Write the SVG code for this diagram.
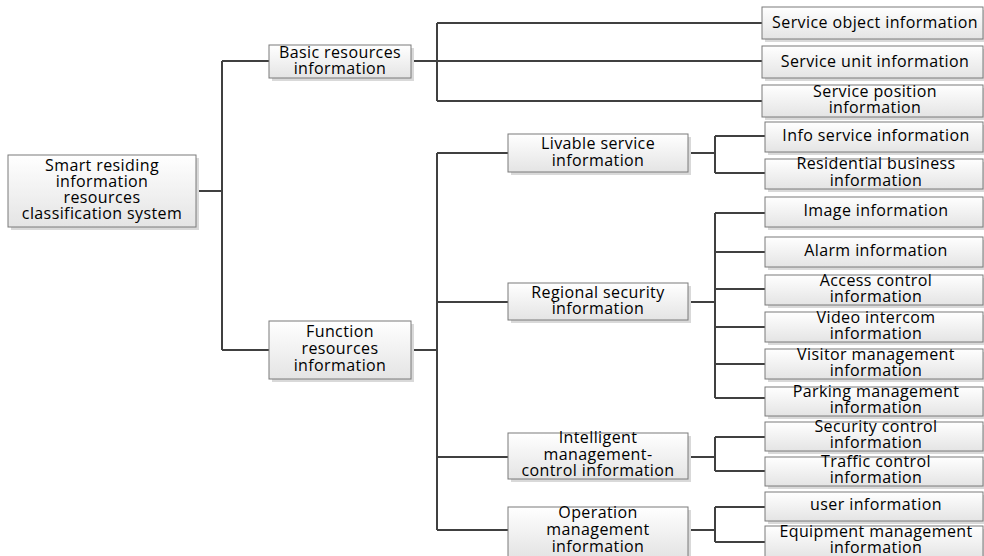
<svg xmlns="http://www.w3.org/2000/svg" width="984" height="556" viewBox="0 0 984 556">
<defs>
<linearGradient id="g" x1="0" y1="0" x2="0" y2="1">
<stop offset="0" stop-color="#ffffff"/>
<stop offset="1" stop-color="#e4e4e4"/>
</linearGradient>
</defs>
<style>
.sh{fill:#d9d9d9;}
.bx{fill:url(#g);stroke:#7a7a7a;stroke-width:1;}
text{font-family:"Open Sans","Liberation Sans",sans-serif;font-size:16px;letter-spacing:0.4px;fill:#000;text-anchor:middle;}
.c{fill:none;stroke:#404040;stroke-width:2;}
</style>
<rect width="984" height="556" fill="#fff"/>
<g id="connectors">
<path class="c" d="M196,191H222M222,61V350M222,61H269M222,350H269"/>
<path class="c" d="M411,61H437M437,23V101M437,23H762M437,61H762M437,101H762"/>
<path class="c" d="M411,350H437M437,153V530M437,153H508M437,302H508M437,457H508M437,530H508"/>
<path class="c" d="M688,153H715M715,136V173M715,136H765M715,173H765"/>
<path class="c" d="M688,302H715M715,213V398M715,213H765M715,252H765M715,289H765M715,327H765M715,364H765M715,398H765"/>
<path class="c" d="M688,457H715M715,437V471M715,437H765M715,471H765"/>
<path class="c" d="M688,530H715M715,507V542M715,507H765M715,542H765"/>
</g>
<g id="root">
<rect class="sh" x="11" y="158" width="188" height="72"/>
<rect class="bx" x="8" y="155" width="188" height="72"/>
<text x="102" y="171">Smart residing</text>
<text x="102" y="187">information</text>
<text x="102" y="203">resources</text>
<text x="102" y="219">classification system</text>
</g>
<g id="basic">
<rect class="sh" x="272" y="48" width="142" height="33"/>
<rect class="bx" x="269" y="45" width="142" height="33"/>
<text x="340" y="58">Basic resources</text>
<text x="340" y="74">information</text>
</g>
<g id="function">
<rect class="sh" x="272" y="324" width="142" height="58"/>
<rect class="bx" x="269" y="321" width="142" height="58"/>
<text x="340" y="337">Function</text>
<text x="340" y="354">resources</text>
<text x="340" y="371">information</text>
</g>
<g id="service-object">
<rect class="sh" x="765" y="10" width="221" height="32"/>
<rect class="bx" x="762" y="7" width="221" height="32"/>
<text x="875" y="28">Service object information</text>
</g>
<g id="service-unit">
<rect class="sh" x="765" y="49" width="221" height="32"/>
<rect class="bx" x="762" y="46" width="221" height="32"/>
<text x="875" y="67">Service unit information</text>
</g>
<g id="service-position">
<rect class="sh" x="765" y="88" width="221" height="32"/>
<rect class="bx" x="762" y="85" width="221" height="32"/>
<text x="875" y="97">Service position</text>
<text x="875" y="113">information</text>
</g>
<g id="livable">
<rect class="sh" x="511" y="137" width="180" height="38"/>
<rect class="bx" x="508" y="134" width="180" height="38"/>
<text x="598" y="149">Livable service</text>
<text x="598" y="166">information</text>
</g>
<g id="regional">
<rect class="sh" x="511" y="286" width="180" height="37"/>
<rect class="bx" x="508" y="283" width="180" height="37"/>
<text x="598" y="298">Regional security</text>
<text x="598" y="314">information</text>
</g>
<g id="intelligent">
<rect class="sh" x="511" y="436" width="180" height="46"/>
<rect class="bx" x="508" y="433" width="180" height="46"/>
<text x="598" y="443">Intelligent</text>
<text x="598" y="460">management-</text>
<text x="598" y="476">control information</text>
</g>
<g id="operation">
<rect class="sh" x="511" y="510" width="180" height="50"/>
<rect class="bx" x="508" y="507" width="180" height="50"/>
<text x="598" y="518">Operation</text>
<text x="598" y="535">management</text>
<text x="598" y="552">information</text>
</g>
<g id="info-service">
<rect class="sh" x="768" y="125" width="218" height="30"/>
<rect class="bx" x="765" y="122" width="218" height="30"/>
<text x="876" y="141">Info service information</text>
</g>
<g id="residential-business">
<rect class="sh" x="768" y="162" width="218" height="30"/>
<rect class="bx" x="765" y="159" width="218" height="30"/>
<text x="876" y="169">Residential business</text>
<text x="876" y="186">information</text>
</g>
<g id="image">
<rect class="sh" x="768" y="200" width="218" height="30"/>
<rect class="bx" x="765" y="197" width="218" height="30"/>
<text x="876" y="216">Image information</text>
</g>
<g id="alarm">
<rect class="sh" x="768" y="240" width="218" height="30"/>
<rect class="bx" x="765" y="237" width="218" height="30"/>
<text x="876" y="256">Alarm information</text>
</g>
<g id="access-control">
<rect class="sh" x="768" y="278" width="218" height="30"/>
<rect class="bx" x="765" y="275" width="218" height="30"/>
<text x="876" y="286">Access control</text>
<text x="876" y="302">information</text>
</g>
<g id="video-intercom">
<rect class="sh" x="768" y="315" width="218" height="30"/>
<rect class="bx" x="765" y="312" width="218" height="30"/>
<text x="876" y="323">Video intercom</text>
<text x="876" y="339">information</text>
</g>
<g id="visitor-management">
<rect class="sh" x="768" y="352" width="218" height="30"/>
<rect class="bx" x="765" y="349" width="218" height="30"/>
<text x="876" y="360">Visitor management</text>
<text x="876" y="376">information</text>
</g>
<g id="parking-management">
<rect class="sh" x="768" y="390" width="218" height="29"/>
<rect class="bx" x="765" y="387" width="218" height="29"/>
<text x="876" y="397">Parking management</text>
<text x="876" y="413">information</text>
</g>
<g id="security-control">
<rect class="sh" x="768" y="425" width="218" height="29"/>
<rect class="bx" x="765" y="422" width="218" height="29"/>
<text x="876" y="432">Security control</text>
<text x="876" y="448">information</text>
</g>
<g id="traffic-control">
<rect class="sh" x="768" y="460" width="218" height="29"/>
<rect class="bx" x="765" y="457" width="218" height="29"/>
<text x="876" y="467">Traffic control</text>
<text x="876" y="483">information</text>
</g>
<g id="user">
<rect class="sh" x="768" y="495" width="218" height="29"/>
<rect class="bx" x="765" y="492" width="218" height="29"/>
<text x="876" y="510">user information</text>
</g>
<g id="equipment-management">
<rect class="sh" x="768" y="529" width="218" height="32"/>
<rect class="bx" x="765" y="526" width="218" height="32"/>
<text x="876" y="537">Equipment management</text>
<text x="876" y="553">information</text>
</g>
</svg>
